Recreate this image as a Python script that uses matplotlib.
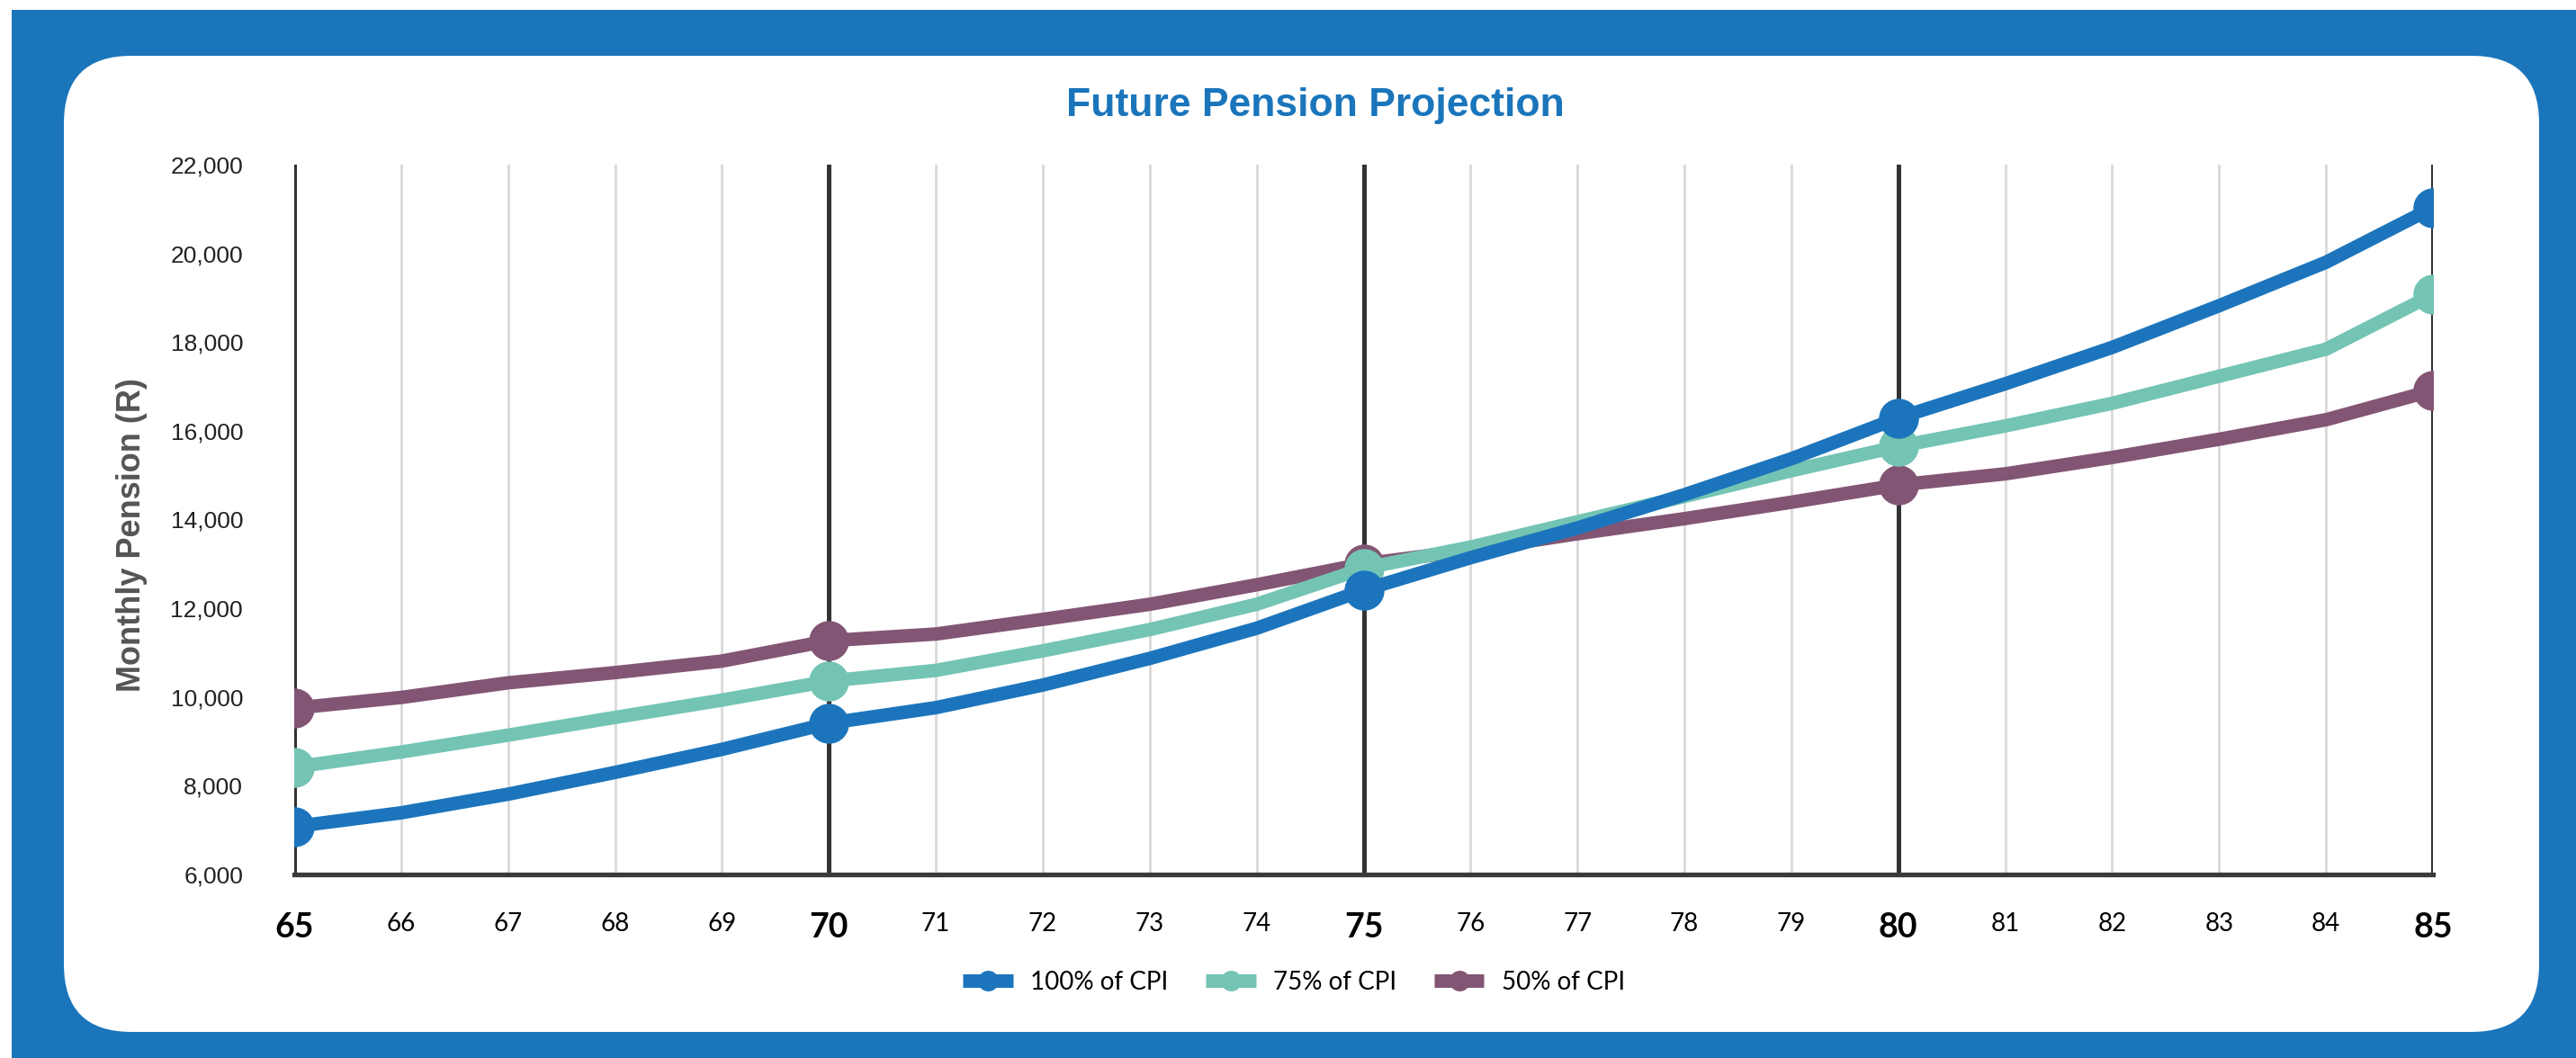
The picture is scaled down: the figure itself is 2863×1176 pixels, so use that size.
import matplotlib
matplotlib.use('Agg')
import matplotlib.pyplot as plt
from matplotlib.patches import Rectangle, FancyBboxPatch
from matplotlib.transforms import IdentityTransform

# Data
ages = list(range(65, 86))
cpi_100 = [7080, 7390, 7810, 8300, 8820, 9410, 9760, 10270, 10870, 11550, 12410,
           13140, 13810, 14560, 15370, 16290, 17060, 17880, 18820, 19800, 21030]
cpi_75 = [8420, 8760, 9140, 9540, 9930, 10360, 10600, 11040, 11520, 12090, 12900,
          13380, 13950, 14520, 15100, 15650, 16110, 16620, 17230, 17840, 19070]
cpi_50 = [9750, 9990, 10320, 10550, 10810, 11270, 11420, 11750, 12090, 12530, 13000,
          13310, 13680, 14020, 14390, 14780, 15030, 15400, 15810, 16250, 16910]
series_names = ['100% of CPI', '75% of CPI', '50% of CPI']
y_ticks = list(range(6000, 22001, 2000))
major_ages = [65, 70, 75, 80, 85]

colors = ['#1C75BC', '#74C4B4', '#835574']
frame_blue = '#1A75BB'

W, H = 2863, 1176
fig = plt.figure(figsize=(W / 100, H / 100), dpi=100, facecolor='white')

# blue frame and white rounded card (pixel coordinates)
fig.add_artist(Rectangle((13, 0), W - 13, H - 11, facecolor=frame_blue, edgecolor='none',
                         transform=IdentityTransform(), zorder=-3))
fig.add_artist(FancyBboxPatch((71, H - 1147), 2822 - 71, 1147 - 62,
                              boxstyle='round,pad=0,rounding_size=75',
                              facecolor='white', edgecolor='none',
                              transform=IdentityTransform(), zorder=-2))

ax = fig.add_axes([327 / W, 1 - 972 / H, (2704 - 327) / W, (972 - 183) / H])
ax.patch.set_alpha(0)

# vertical grid lines
for a in ages:
    if a in major_ages:
        ax.axvline(a, color='#333333', lw=3.6, zorder=1)
    else:
        ax.axvline(a, color='#D9D9D9', lw=2.0, zorder=1)

# lines (blue on top)
data = [cpi_100, cpi_75, cpi_50]
zorders = [6, 5, 4]
markers_at = [ages.index(a) for a in major_ages]
for vals, name, c, z in zip(data, series_names, colors, zorders):
    ax.plot(ages, vals, color=c, lw=10.8, marker='o', markersize=31,
            markevery=markers_at, label=name, zorder=z, solid_capstyle='butt')

ax.set_xlim(65, 85)
ax.set_ylim(6000, 22000)

for s in ['top', 'right', 'left']:
    ax.spines[s].set_visible(False)
ax.spines['bottom'].set_color('#3A3A3A')
ax.spines['bottom'].set_linewidth(3.8)
ax.spines['bottom'].set_zorder(2)

ax.set_yticks(y_ticks)
ax.set_yticklabels([f'{v:,}' for v in y_ticks], fontsize=19, family='Liberation Sans',
                   color='#222222')
ax.tick_params(axis='y', length=0, pad=41)

ax.set_xticks(ages)
ax.set_xticklabels([str(a) for a in ages])
ax.tick_params(axis='x', length=0, pad=30)
for lbl, a in zip(ax.get_xticklabels(), ages):
    lbl.set_family('Lato')
    lbl.set_color('black')
    if a in major_ages:
        lbl.set_fontsize(27)
        lbl.set_fontweight('bold')
    else:
        lbl.set_fontsize(20)

# title and axis label
fig.text(1462 / W, 1 - 129 / H, 'Future Pension Projection', ha='center', va='baseline',
         fontsize=32, fontweight='bold', color=frame_blue, family='Liberation Sans')
fig.text(146 / W, 1 - 595 / H, 'Monthly Pension (R)', rotation=90, ha='center', va='center',
         fontsize=26, fontweight='bold', color='#555555', family='Liberation Sans')

leg = fig.legend(loc='center', bbox_to_anchor=(1438 / W, 1 - 1092 / H), ncol=3,
                 frameon=False, markerscale=0.5, handlelength=2.0, handletextpad=0.7,
                 columnspacing=1.5, prop={'family': 'Lato', 'size': 20})

fig.savefig('out.png', dpi=100, facecolor='white')
